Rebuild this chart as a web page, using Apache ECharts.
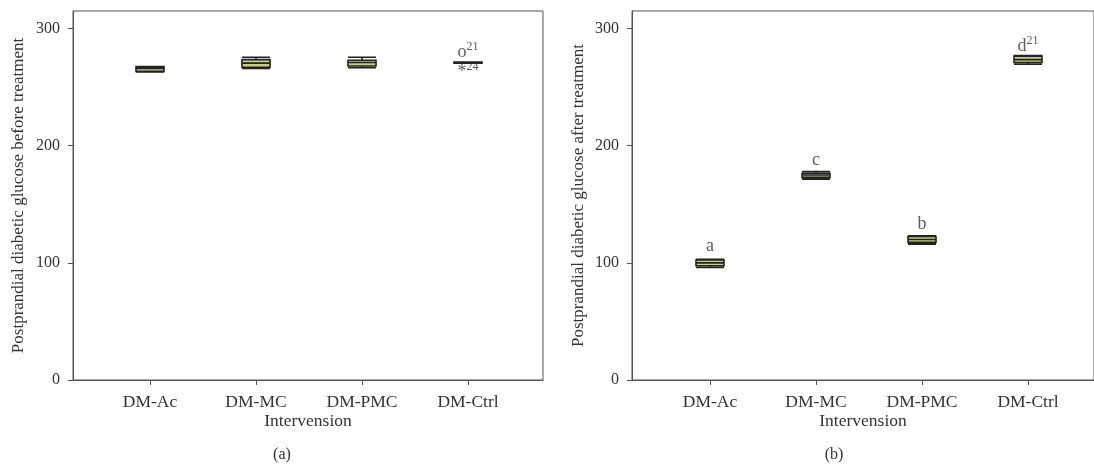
<!DOCTYPE html>
<html>
<head>
<meta charset="utf-8">
<script src="https://cdn.jsdelivr.net/npm/echarts@6/dist/echarts.min.js"></script>
<style>html,body{margin:0;padding:0;background:#fff}#c{width:1094px;height:470px}</style>
</head>
<body>
<div id="c"></div>
<script>
var categories = ['DM-Ac', 'DM-MC', 'DM-PMC', 'DM-Ctrl'];
var yTicks = [0, 100, 200, 300];
var yMax = 315;
// [min, Q1, median, Q3, max]
var beforeBox = [
  [263, 263.5, 266, 267.5, 267.5],
  [266, 267, 270.5, 273.5, 275.5],
  [266.5, 268, 271, 273, 275.5],
  [270.5, 270.5, 271, 271.5, 271.5]
];
var afterBox = [
  [96, 97.5, 100, 102.5, 103],
  [171.5, 173, 175, 176.5, 178],
  [116, 117.5, 120, 122.5, 123],
  [269.5, 271, 273.5, 276.5, 277]
];
// outlier marks before treatment: [category, value, glyph, case]
var beforeOutliers = [
  ['DM-Ctrl', 280, 'o', '21'],
  ['DM-Ctrl', 263, '*', '24']
];
// letters after treatment: [category, label y value, letter, superscript]
var afterLetters = [
  ['DM-Ac', 114, 'a', ''],
  ['DM-MC', 188, 'c', ''],
  ['DM-PMC', 133, 'b', ''],
  ['DM-Ctrl', 285, 'd', '21']
];
var yNameA = 'Postprandial diabetic glucose before treatment';
var yNameB = 'Postprandial diabetic glucose after treatment';
var xName = 'Intervension';
var captions = ['(a)', '(b)'];

var FONT = '"Liberation Serif", "DejaVu Serif", serif';
var TXT = '#333';
var LINE = '#555';

function frameAxes(gi, yName, gap) {
  return {
    x: {
      type: 'value', gridIndex: gi, min: 0, max: 1,
      axisLine: {show: true, lineStyle: {color: LINE, width: 1}},
      axisTick: {show: false}, axisLabel: {show: false}, splitLine: {show: false},
      name: xName, nameLocation: 'middle', nameGap: 32,
      nameTextStyle: {fontFamily: FONT, fontSize: 17.5, color: TXT}
    },
    y: {
      type: 'value', gridIndex: gi, min: 0, max: yMax, interval: 100,
      axisLine: {show: true, lineStyle: {color: LINE, width: 1}},
      axisTick: {show: true, length: 5, lineStyle: {color: LINE}},
      axisLabel: {fontFamily: FONT, fontSize: 16, color: TXT, margin: 13, showMaxLabel: false,
        formatter: function (v) { return yTicks.indexOf(v) >= 0 ? String(v) : ''; }},
      splitLine: {show: false},
      name: yName, nameLocation: 'middle', nameGap: gap,
      nameTextStyle: {fontFamily: FONT, fontSize: 17, color: TXT}
    }
  };
}
function dataAxes(gi) {
  return {
    x: {
      type: 'category', gridIndex: gi, data: categories, boundaryGap: true,
      axisLine: {show: false},
      axisTick: {show: true, alignWithLabel: true, length: 5, lineStyle: {color: LINE}},
      axisLabel: {fontFamily: FONT, fontSize: 17.5, color: TXT, margin: 13}
    },
    y: {type: 'value', gridIndex: gi, min: 0, max: yMax, show: false, splitLine: {show: false}}
  };
}
var fa = frameAxes(0, yNameA, 46), da = dataAxes(1), fb = frameAxes(2, yNameB, 45), db = dataAxes(3);

function richLabel(p) {
  var d = p.data;
  return '{m|' + d[2] + '}' + (d[3] ? '{s|' + d[3] + '}' : '');
}
var rich = {
  m: {fontFamily: FONT, fontSize: 18, color: TXT, lineHeight: 22},
  s: {fontFamily: FONT, fontSize: 12, color: TXT, verticalAlign: 'top', lineHeight: 22, padding: [0, 0, 6, 0]}
};
var boxStyle = {color: '#cdcd86', borderColor: '#222', borderWidth: 1.6};

var option = {
  animation: false,
  backgroundColor: '#fff',
  grid: [
    {left: 73, top: 11, width: 470, height: 369, show: true, borderColor: LINE, borderWidth: 1, backgroundColor: 'transparent'},
    {left: 97, top: 11, width: 424, height: 369},
    {left: 632, top: 11, width: 472, height: 369, show: true, borderColor: LINE, borderWidth: 1, backgroundColor: 'transparent'},
    {left: 657, top: 11, width: 424, height: 369}
  ],
  xAxis: [fa.x, da.x, fb.x, db.x],
  yAxis: [fa.y, da.y, fb.y, db.y],
  series: [
    {type: 'boxplot', xAxisIndex: 1, yAxisIndex: 1, data: beforeBox, boxWidth: [28, 28], itemStyle: boxStyle},
    {type: 'boxplot', xAxisIndex: 3, yAxisIndex: 3, data: afterBox, boxWidth: [28, 28], itemStyle: boxStyle},
    {type: 'scatter', xAxisIndex: 1, yAxisIndex: 1, symbolSize: 0,
      data: beforeOutliers,
      label: {show: true, position: 'inside', formatter: richLabel, rich: rich}},
    {type: 'scatter', xAxisIndex: 3, yAxisIndex: 3, symbolSize: 0,
      data: afterLetters,
      label: {show: true, position: 'inside', formatter: richLabel, rich: rich}}
  ],
  graphic: [
    {type: 'text', x: 282, y: 455, style: {text: captions[0], fontFamily: FONT, fontSize: 16, fill: TXT, textAlign: 'center', textVerticalAlign: 'middle'}},
    {type: 'text', x: 834, y: 455, style: {text: captions[1], fontFamily: FONT, fontSize: 16, fill: TXT, textAlign: 'center', textVerticalAlign: 'middle'}}
  ]
};
var chart = echarts.init(document.getElementById('c'), null, {renderer: 'canvas'});
chart.setOption(option);
</script>
</body>
</html>
